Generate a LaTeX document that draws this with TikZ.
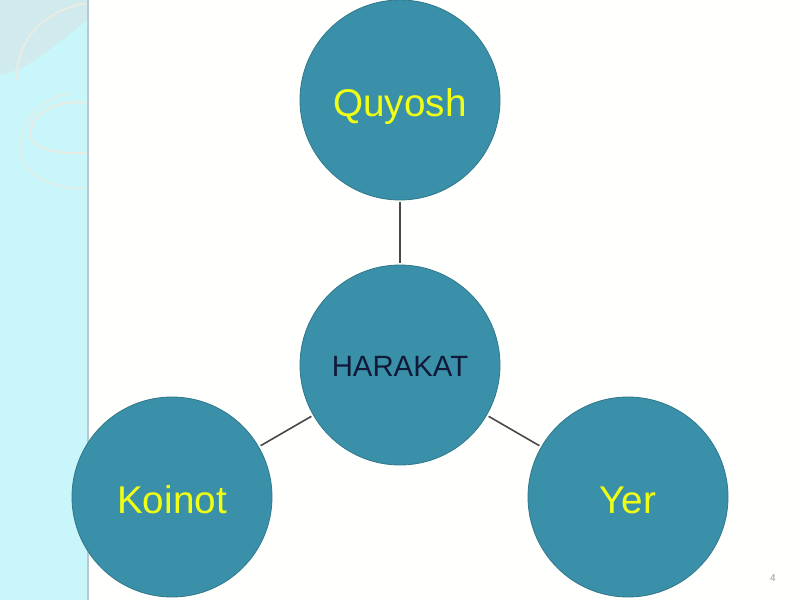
\documentclass[tikz,border=0pt]{standalone}
\usepackage{fontspec}
\setmainfont{Liberation Sans}
\definecolor{bandcyan}{RGB}{200,246,250}
\definecolor{bandgrey}{RGB}{208,234,238}
\definecolor{ringc}{RGB}{232,236,228}
\definecolor{bgcream}{RGB}{255,255,253}
\definecolor{ballfill}{RGB}{58,144,168}
\definecolor{balledge}{RGB}{48,120,140}
\definecolor{ballyellow}{RGB}{240,255,20}
\definecolor{navytext}{RGB}{16,26,56}
\definecolor{linkgrey}{RGB}{72,72,72}
\begin{document}
\begin{tikzpicture}[x=0.75pt,y=-0.75pt,
  ball/.style={circle,fill=ballfill,draw=balledge,line width=0.6pt,minimum size=150pt,inner sep=0pt,text depth=0pt},
  outer/.style={ball,text=ballyellow,font=\fontsize{29}{32}\selectfont,text height=24pt},
  hub/.style={ball,text=navytext,font=\fontsize{22}{24}\selectfont,text height=17pt},
  link/.style={draw=linkgrey,line width=1.2pt,shorten <=1.5pt,shorten >=1.5pt}]
\useasboundingbox (0,0) rectangle (800,600);
% background
\fill[bgcream] (0,0) rectangle (800,600);
\fill[bandcyan] (0,0) rectangle (88,600);
\fill[bandgrey] (0,0) -- (88,0) -- (88,20) .. controls (60,40) and (30,70) .. (0,75) -- cycle;
\draw[ringc,line width=1.5pt] (88,3) .. controls (40,10) and (15,45) .. (17,80);
\draw[ringc,line width=1.5pt] (88,103) .. controls (55,98) and (30,115) .. (30,135) .. controls (32,150) and (60,154) .. (88,153);
\draw[ringc!70!bandcyan,line width=1.5pt] (70,93) .. controls (30,100) and (10,140) .. (25,165) .. controls (40,185) and (70,190) .. (88,188);
\draw[bandgrey!70!gray,line width=1pt] (88,0) -- (88,600);
% nodes
\node[outer] (sun) at (400,100) {Quyosh};
\node[hub] (hub) at (400,365) {HARAKAT};
\node[outer] (koinot) at (172,497) {Koinot};
\node[outer] (yer) at (628,497) {Yer};
% connectors
\draw[link] (hub) -- (sun);
\draw[link] (hub) -- (koinot);
\draw[link] (hub) -- (yer);
% page number
\node[text=gray!80,font=\fontsize{7.5}{9}\selectfont] (pg) at (773,578) {4};
\end{tikzpicture}
\end{document}
